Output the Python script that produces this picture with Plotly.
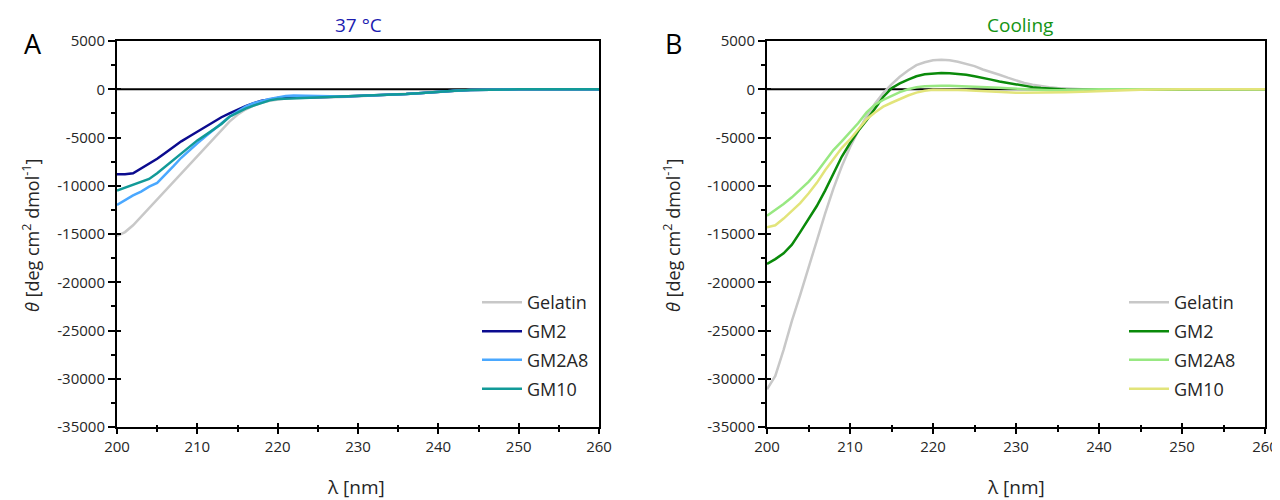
import plotly.graph_objects as go

# ---------------- data: panel A (37 °C) ----------------
wl_a = [200, 201, 202, 203, 204, 205, 206, 207, 208, 209, 210, 211, 212, 213, 214, 215, 216, 217, 218,
        219, 220, 221, 222, 224, 226, 228, 230, 232, 234, 236, 238, 240, 242, 244, 246, 248, 250, 252,
        254, 256, 258, 260]
a_gelatin = [-15200, -14800, -14100, -13200, -12300, -11400, -10500, -9600, -8700, -7800, -6900, -6000,
             -5100, -4200, -3350, -2650, -2100, -1700, -1400, -1200, -1050, -950, -900, -880, -850, -800,
             -720, -650, -600, -500, -400, -280, -170, -90, -40, -10, 0, 0, -10, 0, 0, 0]
a_gm2 = [-8800, -8800, -8700, -8200, -7700, -7200, -6600, -6000, -5400, -4900, -4400, -3900, -3400,
         -2900, -2500, -2100, -1750, -1450, -1200, -1050, -900, -850, -850, -850, -800, -750, -700, -650,
         -600, -500, -400, -250, -150, -80, -40, 0, 0, 0, -20, 0, 0, 0]
a_gm2a8 = [-12000, -11500, -11000, -10600, -10100, -9700, -8900, -8000, -7100, -6300, -5600, -4900,
           -4200, -3500, -2850, -2300, -1800, -1450, -1200, -1000, -850, -700, -650, -700, -750, -750,
           -700, -650, -600, -500, -380, -250, -150, -80, -40, 0, 0, 0, -20, 0, 0, 0]
a_gm10 = [-10500, -10200, -9900, -9600, -9300, -8700, -8000, -7300, -6600, -5950, -5300, -4750, -4200,
          -3600, -2850, -2400, -2000, -1700, -1400, -1150, -1000, -970, -950, -900, -850, -750, -700,
          -650, -600, -500, -400, -260, -160, -90, -40, -10, 0, 0, -20, 0, 0, 0]

# ---------------- data: panel B (Cooling) ----------------
wl_b = [200, 201, 202, 203, 204, 205, 206, 207, 208, 209, 210, 211, 212, 213, 214, 215, 216, 217, 218,
        219, 220, 221, 222, 223, 224, 225, 226, 227, 228, 229, 230, 231, 232, 233, 234, 235, 236, 238,
        240, 242, 245, 250, 255, 260]
b_gelatin = [-31100, -29700, -27000, -24000, -21300, -18600, -15700, -12900, -10300, -8000, -6000, -4300,
             -2800, -1500, -400, 500, 1300, 1950, 2500, 2800, 3000, 3050, 3000, 2850, 2600, 2400, 2050,
             1800, 1500, 1200, 900, 650, 480, 330, 200, 120, 60, 0, 0, -20, 0, 0, 0, 0]
b_gm2 = [-18100, -17600, -17000, -16100, -14800, -13400, -12100, -10500, -8700, -7000, -5600, -4300,
         -3200, -2000, -800, 100, 600, 1000, 1350, 1550, 1650, 1680, 1650, 1600, 1500, 1350, 1200, 1000,
         800, 650, 480, 350, 220, 130, 60, 0, -30, -60, -50, -30, 0, 0, 0, 0]
b_gm2a8 = [-13100, -12500, -11900, -11200, -10400, -9600, -8600, -7400, -6300, -5400, -4500, -3500,
           -2400, -1600, -1100, -700, -300, 0, 200, 300, 350, 350, 350, 330, 300, 280, 250, 200, 150,
           100, 50, 0, -50, -80, -100, -100, -100, -50, 0, 0, 0, 0, 0, 0]
b_gm10 = [-14300, -14100, -13400, -12600, -11800, -10800, -9700, -8400, -7200, -6100, -5200, -4100,
          -3100, -2400, -1800, -1400, -1000, -650, -350, -150, -50, -40, -50, -70, -100, -150, -200,
          -250, -300, -320, -350, -350, -350, -350, -350, -330, -300, -250, -200, -100, -50, 0, 0, 0]

names = ["Gelatin", "GM2", "GM2A8", "GM10"]
colors_a = ["#c8c8c8", "#0b0b8f", "#4aa8ff", "#129a98"]
colors_b = ["#c8c8c8", "#0a8a0a", "#98e882", "#e2e47a"]
values_a = [a_gelatin, a_gm2, a_gm2a8, a_gm10]
values_b = [b_gelatin, b_gm2, b_gm2a8, b_gm10]

x_ticks = [200, 210, 220, 230, 240, 250, 260]
y_ticks = [5000, 0, -5000, -10000, -15000, -20000, -25000, -30000, -35000]
y_tick_labels = ["5000", "0", "-5000", "-10000", "-15000", "-20000", "-25000", "-30000", "-35000"]

FONT = "Open Sans"
TXT = "#262626"
OFF = 8                      # page body margin
W, H = 1280 - OFF, 500 - OFF


def px(sx):
    return (sx - OFF) / W


def py(sy):
    return 1 - (sy - OFF) / H


fig = go.Figure()

legend_layout = {}
row_tops = [276, 305, 333.5, 362.5]
for i, (name, vals, col) in enumerate(zip(names, values_a, colors_a)):
    lg = "legend" if i == 0 else f"legend{i + 1}"
    fig.add_trace(go.Scatter(x=wl_a, y=vals, name=name, mode="lines",
                             line=dict(color=col, width=2.5), xaxis="x", yaxis="y", legend=lg))
    legend_layout[lg] = dict(x=px(477), y=py(row_tops[i] + OFF), xanchor="left", yanchor="top",
                             font=dict(family=FONT, size=18, color=TXT), bgcolor="rgba(0,0,0,0)",
                             itemwidth=40)
for i, (name, vals, col) in enumerate(zip(names, values_b, colors_b)):
    lg = f"legend{i + 5}"
    fig.add_trace(go.Scatter(x=wl_b, y=vals, name=name, mode="lines",
                             line=dict(color=col, width=2.5), xaxis="x2", yaxis="y2", legend=lg))
    legend_layout[lg] = dict(x=px(1124), y=py(row_tops[i] + OFF), xanchor="left", yanchor="top",
                             font=dict(family=FONT, size=18, color=TXT), bgcolor="rgba(0,0,0,0)",
                             itemwidth=40)

# empty traces so that the overlay (inner tick) axes are drawn
for xa, ya in [("x3", "y3"), ("x4", "y4")]:
    fig.add_trace(go.Scatter(x=[], y=[], xaxis=xa, yaxis=ya, showlegend=False, hoverinfo="skip"))

common_x = dict(range=[200, 260], tickvals=x_ticks, ticktext=[str(v) for v in x_ticks],
                ticks="outside", ticklen=5, tickwidth=2, automargin=False, ticklabeloverflow="allow",
                tickcolor="black", showline=True, linewidth=2, linecolor="black", mirror=True,
                showgrid=False, zeroline=False, tickfont=dict(family=FONT, size=15, color=TXT),
                minor=dict(dtick=5, ticks="outside", ticklen=3, tickwidth=2, tickcolor="black"))
common_y = dict(range=[-35000, 5000], tickvals=y_ticks, ticktext=y_tick_labels, ticks="outside",
                ticklen=7, tickwidth=2, automargin=False, ticklabeloverflow="allow",
                tickcolor="black", showline=True, linewidth=2, linecolor="black", mirror=True,
                showgrid=False, zeroline=False, tickfont=dict(family=FONT, size=15, color=TXT),
                minor=dict(dtick=2500, ticks="outside", ticklen=4, tickwidth=2, tickcolor="black"))
inner_x = dict(range=[200, 260], tickvals=x_ticks, ticks="inside", ticklen=4, tickwidth=2,
               tickcolor="black", showticklabels=False, showline=False, showgrid=False,
               zeroline=False, automargin=False, side="bottom",
               minor=dict(dtick=5, ticks="inside", ticklen=2, tickwidth=2, tickcolor="black"))
inner_y = dict(range=[-35000, 5000], tickvals=y_ticks, ticks="inside", ticklen=4, tickwidth=2,
               tickcolor="black", showticklabels=False, showline=False, showgrid=False,
               zeroline=False, automargin=False, side="left")

ytitle = "<i>θ</i> [deg cm<sup>2</sup> dmol<sup>-1</sup>]"
dom_y = [py(427), py(41)]
dom_xa = [px(117), px(599)]
dom_xb = [px(767), px(1265)]

fig.update_layout(
    width=W, height=H, margin=dict(l=0, r=0, t=0, b=0, autoexpand=False),
    paper_bgcolor="white", plot_bgcolor="white",
    xaxis=dict(domain=dom_xa, anchor="y", **common_x),
    yaxis=dict(domain=dom_y, anchor="x", **common_y),
    xaxis2=dict(domain=dom_xb, anchor="y2", **common_x),
    yaxis2=dict(domain=dom_y, anchor="x2", **common_y),
    xaxis3=dict(domain=dom_xa, anchor="y3", overlaying="x", **inner_x),
    yaxis3=dict(domain=dom_y, anchor="x3", overlaying="y", **inner_y),
    xaxis4=dict(domain=dom_xb, anchor="y4", overlaying="x2", **inner_x),
    yaxis4=dict(domain=dom_y, anchor="x4", overlaying="y2", **inner_y),
    showlegend=True,
    shapes=[
        dict(type="line", xref="x domain", yref="y", x0=0, x1=1, y0=0, y1=0,
             line=dict(color="black", width=2), layer="below"),
        dict(type="line", xref="x2 domain", yref="y2", x0=0, x1=1, y0=0, y1=0,
             line=dict(color="black", width=2), layer="below"),
    ],
    annotations=[
        dict(text="37 °C", xref="paper", yref="paper", x=px(358), y=py(25), showarrow=False,
             xanchor="center", yanchor="middle", font=dict(family=FONT, size=19, color="#1c1cb0")),
        dict(text="Cooling", xref="paper", yref="paper", x=px(1020), y=py(25), showarrow=False,
             xanchor="center", yanchor="middle", font=dict(family=FONT, size=19, color="#149414")),
        dict(text="A", xref="paper", yref="paper", x=px(33), y=py(44), showarrow=False,
             xanchor="center", yanchor="middle", font=dict(family=FONT, size=27, color="black")),
        dict(text="B", xref="paper", yref="paper", x=px(673), y=py(44), showarrow=False,
             xanchor="center", yanchor="middle", font=dict(family=FONT, size=27, color="black")),
        dict(text=ytitle, xref="paper", yref="paper", x=px(31), y=py(236), showarrow=False,
             textangle=-90, xanchor="center", yanchor="middle",
             font=dict(family=FONT, size=18, color=TXT)),
        dict(text=ytitle, xref="paper", yref="paper", x=px(672), y=py(236), showarrow=False,
             textangle=-90, xanchor="center", yanchor="middle",
             font=dict(family=FONT, size=18, color=TXT)),
        dict(text="λ [nm]", xref="paper", yref="paper", x=px(356), y=py(487), showarrow=False,
             xanchor="center", yanchor="middle", font=dict(family=FONT, size=19, color=TXT)),
        dict(text="λ [nm]", xref="paper", yref="paper", x=px(1016), y=py(487), showarrow=False,
             xanchor="center", yanchor="middle", font=dict(family=FONT, size=19, color=TXT)),
    ],
    **legend_layout,
)

fig.write_html("out.html")
